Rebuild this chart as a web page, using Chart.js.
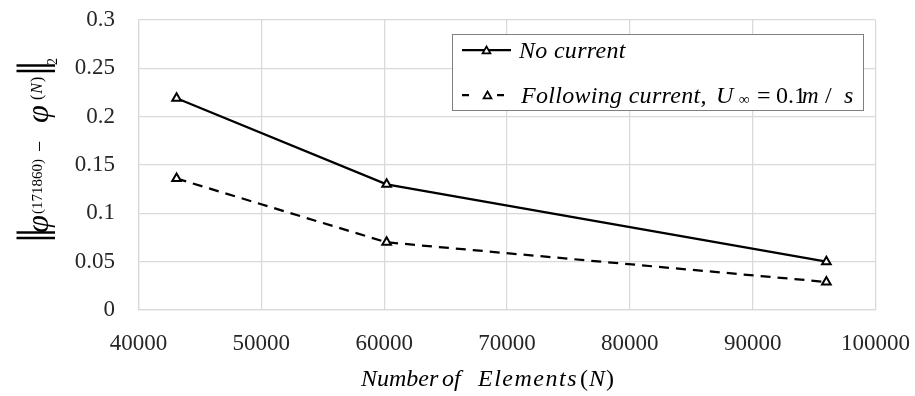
<!DOCTYPE html>
<html>
<head>
<meta charset="utf-8">
<script src="https://cdn.jsdelivr.net/npm/chart.js@4.4.1/dist/chart.umd.min.js"></script>
<style>
  html, body { margin: 0; padding: 0; background: #fff; }
  #wrap { width: 915px; height: 396px; }
</style>
</head>
<body>
<div id="wrap"><canvas id="c" width="915" height="396"></canvas></div>
<script>
// Mesh sizes and the L2 error against the finest mesh (171860 elements)
const elementCounts = [43100, 60200, 96000];
const errNoCurrent = [0.219, 0.130, 0.050];
const errFollowing = [0.136, 0.070, 0.029];

const xTickValues = [40000, 50000, 60000, 70000, 80000, 90000, 100000];
const yTickValues = [0, 0.05, 0.1, 0.15, 0.2, 0.25, 0.3];
const yTickLabels = ['0', '0.05', '0.1', '0.15', '0.2', '0.25', '0.3'];

const seriesNames = ['No current', 'Following current, U∞ = 0.1m / s'];

const SERIF = "'Liberation Serif', 'Times New Roman', serif";
const GRID = '#d9d9d9';
const TICK_COLOR = '#262626';

function toPoints(xs, ys) {
  return xs.map((x, i) => ({ x: x, y: ys[i] }));
}

function fontOf(style, size) {
  return (style ? style + ' ' : '') + size + 'px ' + SERIF;
}

// Font size at which the glyphs' ink is `h` pixels tall
function sizeForHeight(ctx, text, style, h) {
  ctx.font = fontOf(style, 100);
  const m = ctx.measureText(text);
  return 100 * h / (m.actualBoundingBoxAscent + m.actualBoundingBoxDescent);
}

// Typeset a formula as runs placed by the left edge of their ink.
// A run without `left` follows the previous run's advance (+gap).
// Vertical placement: `base` (baseline), `bottom` (ink bottom) or `mid` (ink centre).
function typeset(ctx, runs) {
  let pen = 0;
  runs.forEach(r => {
    const size = r.h ? sizeForHeight(ctx, r.text, r.style, r.h) : r.size;
    ctx.font = fontOf(r.style, size);
    ctx.letterSpacing = r.spacing || '0px';
    const m = ctx.measureText(r.text);
    const x = (r.left !== undefined) ? r.left + m.actualBoundingBoxLeft : pen + (r.gap || 0);
    let y;
    if (r.bottom !== undefined) y = r.bottom - m.actualBoundingBoxDescent;
    else if (r.mid !== undefined) y = r.mid + (m.actualBoundingBoxAscent - m.actualBoundingBoxDescent) / 2;
    else y = r.base;
    ctx.fillText(r.text, x, y);
    pen = x + m.width;
  });
  ctx.letterSpacing = '0px';
}

function drawTriangle(ctx, x, y, r) {
  ctx.save();
  ctx.beginPath();
  ctx.moveTo(x, y - r);
  ctx.lineTo(x + Math.sin(2 * Math.PI / 3) * r, y + r / 2);
  ctx.lineTo(x - Math.sin(2 * Math.PI / 3) * r, y + r / 2);
  ctx.closePath();
  ctx.fillStyle = '#fff';
  ctx.fill();
  ctx.setLineDash([]);
  ctx.lineWidth = 1.75;
  ctx.strokeStyle = '#000';
  ctx.stroke();
  ctx.restore();
}

// Boxed legend inside the plot area, plus the two math-styled axis titles
const annotations = {
  id: 'annotations',
  afterDraw(chart) {
    const ctx = chart.ctx;
    const ds = chart.data.datasets;
    ctx.save();

    // legend box
    const box = { left: 452.5, top: 34.5, right: 863.5, bottom: 110.5 };
    ctx.fillStyle = '#fff';
    ctx.fillRect(box.left, box.top, box.right - box.left, box.bottom - box.top);
    ctx.strokeStyle = '#7f7f7f';
    ctx.lineWidth = 1;
    ctx.strokeRect(box.left, box.top, box.right - box.left, box.bottom - box.top);

    // entry 1: solid sample
    ctx.strokeStyle = ds[0].borderColor;
    ctx.lineWidth = ds[0].borderWidth;
    ctx.setLineDash([]);
    ctx.beginPath(); ctx.moveTo(462, 50); ctx.lineTo(511, 50); ctx.stroke();
    drawTriangle(ctx, 486.5, 51, 4.5);

    // entry 2: dashed sample
    ctx.strokeStyle = ds[1].borderColor;
    ctx.lineWidth = ds[1].borderWidth;
    ctx.setLineDash([7, 28]);
    ctx.beginPath(); ctx.moveTo(462, 95); ctx.lineTo(505, 95); ctx.stroke();
    ctx.setLineDash([]);
    drawTriangle(ctx, 487.5, 96, 4.5);

    ctx.fillStyle = '#000';
    ctx.textAlign = 'left';
    ctx.textBaseline = 'alphabetic';
    typeset(ctx, [{ text: ds[0].label, style: 'italic', size: 24, left: 518, base: 58, spacing: '0.3px' }]);
    typeset(ctx, [
      { text: 'Following current,', style: 'italic', size: 24, left: 520, base: 103, spacing: '0.3px' },
      { text: 'U', style: 'italic', size: 24, left: 718, base: 103 },
      { text: '∞', style: '', size: 15, left: 739, base: 104 },
      { text: '=', style: '', size: 24, left: 758, base: 103 },
      { text: '0.1', style: '', size: 24, left: 776, base: 103 },
      { text: 'm', style: 'italic', size: 23, left: 802, base: 103 },
      { text: '/', style: '', size: 24, left: 825, base: 103 },
      { text: 's', style: 'italic', size: 24, left: 844, base: 103 }
    ]);

    // x-axis title
    typeset(ctx, [
      { text: 'Number', style: 'italic', size: 24, left: 360, base: 386 },
      { text: 'of', style: 'italic', size: 24, left: 442, base: 386 },
      { text: 'Elements', style: 'italic', size: 24, left: 477, base: 386, spacing: '1.5px' },
      { text: '(', style: '', size: 24, left: 581, base: 386 },
      { text: 'N', style: 'italic', size: 24, gap: 1, base: 386 },
      { text: ')', style: '', size: 24, gap: 1, base: 386 }
    ]);

    // y-axis title, rotated: text x runs up from screen y = 242,
    // text y runs right from screen x = 50
    ctx.translate(50, 242);
    ctx.rotate(-Math.PI / 2);
    const sx = v => v - 50;
    typeset(ctx, [
      { text: '‖', style: '', h: 38, left: 2, bottom: sx(55) },
      { text: 'φ', style: 'italic', h: 22, left: 9, bottom: sx(55) },
      { text: '(171860)', style: '', size: 15, left: 28, bottom: sx(46) },
      { text: '−', style: '', size: 20, left: 91, mid: sx(39) },
      { text: 'φ', style: 'italic', h: 22, left: 119, bottom: sx(55) },
      { text: '(', style: '', size: 16, left: 142, bottom: sx(46) },
      { text: 'N', style: 'italic', size: 16, gap: 1, base: sx(42) },
      { text: ')', style: '', size: 16, gap: 1, bottom: sx(46) },
      { text: '‖', style: '', h: 38, left: 169, bottom: sx(55) },
      { text: '2', style: '', size: 14, left: 177, bottom: sx(57) }
    ]);
    ctx.restore();
  }
};

const lineStyle = {
  borderColor: '#000',
  borderWidth: 2.25,
  pointStyle: 'triangle',
  pointRadius: 5,
  pointHoverRadius: 5,
  pointBorderWidth: 2,
  pointBackgroundColor: '#fff',
  pointBorderColor: '#000',
  fill: false,
  tension: 0,
  clip: false
};

const HIDDEN = 'rgba(0,0,0,0)';

new Chart(document.getElementById('c'), {
  type: 'line',
  data: {
    datasets: [
      Object.assign({ label: seriesNames[0], data: toPoints(elementCounts, errNoCurrent) }, lineStyle),
      Object.assign({ label: seriesNames[1], data: toPoints(elementCounts, errFollowing), borderDash: [10, 7] }, lineStyle)
    ]
  },
  options: {
    responsive: false,
    animation: false,
    devicePixelRatio: 1,
    layout: { padding: { top: 20, right: 39.5, left: 0, bottom: 0 } },
    plugins: { legend: { display: false }, tooltip: { enabled: false } },
    scales: {
      x: {
        type: 'linear',
        min: 40000,
        max: 100000,
        afterFit(s) { s.height = 86; },
        afterBuildTicks(s) { s.ticks = xTickValues.map(v => ({ value: v })); },
        grid: { color: GRID, lineWidth: 1.25, drawTicks: true, tickLength: 20, tickColor: HIDDEN },
        border: { color: GRID, width: 1.25 },
        ticks: {
          color: TICK_COLOR,
          font: { family: SERIF, size: 23 },
          padding: 0,
          maxRotation: 0,
          callback: v => String(v)
        }
      },
      y: {
        min: 0,
        max: 0.3,
        afterFit(s) { s.width = 138.5; },
        afterBuildTicks(s) { s.ticks = yTickValues.map(v => ({ value: v })); },
        grid: { color: GRID, lineWidth: 1.25, drawTicks: true, tickLength: 23.5, tickColor: HIDDEN },
        border: { color: GRID, width: 1.25 },
        ticks: {
          color: TICK_COLOR,
          font: { family: SERIF, size: 23 },
          padding: 0,
          callback: (v, i) => yTickLabels[i]
        }
      }
    }
  },
  plugins: [annotations]
});
</script>
</body>
</html>
